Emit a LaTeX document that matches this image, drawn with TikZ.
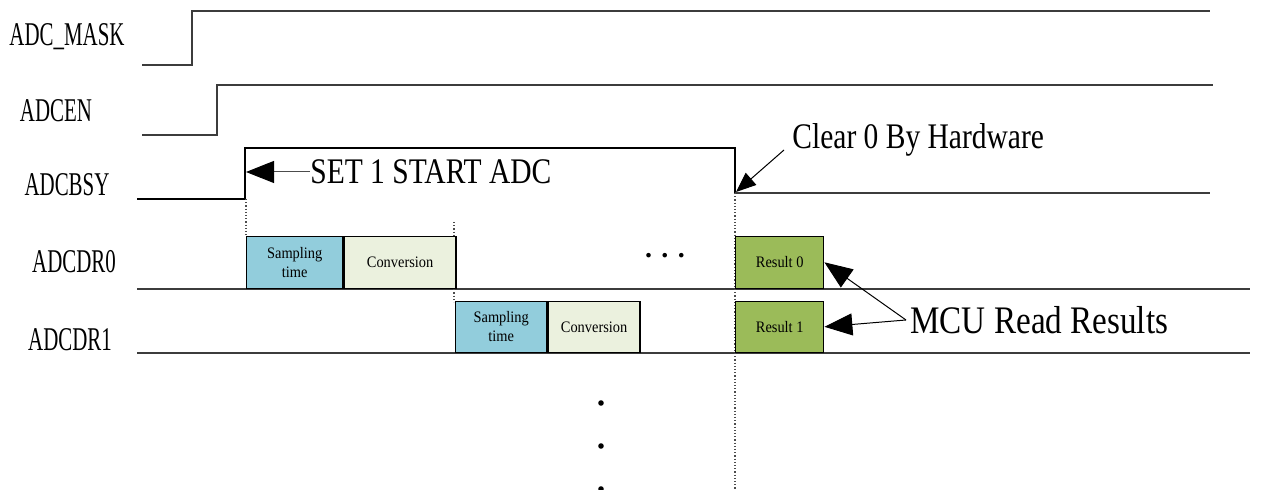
\documentclass[tikz,border=0pt]{standalone}
\usepackage{fontspec}
\setmainfont{Liberation Serif}
\newfontfamily\sigfont[FakeStretch=0.63]{Liberation Serif}
\newfontfamily\notefont[FakeStretch=0.82]{Liberation Serif}
\newfontfamily\widenotefont[FakeStretch=0.85]{Liberation Serif}
\newfontfamily\cellfont[FakeStretch=0.9]{Liberation Serif}
\usetikzlibrary{arrows.meta,positioning}
\definecolor{samp}{RGB}{146,205,220}
\definecolor{conv}{RGB}{235,241,222}
\definecolor{res}{RGB}{155,187,89}
\definecolor{wave}{RGB}{60,60,60}

\begin{document}
\begin{tikzpicture}[x=0.5pt, y=-0.5pt,
  sig/.style={draw=wave, line width=0.9pt},
  guide/.style={densely dotted, black!70, line width=0.6pt},
  lbl/.style={font=\sigfont\fontsize{16.6}{18}\selectfont, inner sep=0pt},
  note/.style={font=\notefont\fontsize{18}{20}\selectfont, inner sep=0pt},
  cell/.style={draw, line width=0.7pt, minimum height=26pt, inner sep=0pt, align=center, font=\cellfont\fontsize{8}{9.5}\selectfont},
  arrow/.style={-{Triangle[length=14pt, width=11pt, color=black]}, line width=0.5pt},
  smallarrow/.style={-{Triangle[length=10pt, width=8pt]}, line width=0.5pt},
]
  \useasboundingbox (0,0) rectangle (1265,490);

  \node[lbl] (mask) at (67,37) {ADC\_MASK};
  \node[lbl] (en) at (56,111) {ADCEN};
  \node[lbl] (bsy) at (67,185) {ADCBSY};
  \node[lbl] (dr0) at (74,262) {ADCDR0};
  \node[lbl] (dr1) at (70,340) {ADCDR1};

  \draw[sig] (142,65) -- (192,65) -- (192,11) -- (1210,11);
  \draw[sig] (142,135) -- (217,135) -- (217,85) -- (1213,85);
  \draw[sig, draw=black, line width=0.6pt] (137,199) -- (245,199) -- (245,148) -- (735,148) -- (735,193);
  \draw[sig] (735,193) -- (1210,193);
  \draw[sig] (137,289) -- (1250,289);
  \draw[sig] (137,353) -- (1250,353);

  \draw[guide] (246,199) -- (246,235);
  \draw[guide] (454,222) -- (454,302);
  \draw[guide] (735,193) -- (735,490);

  \node[cell, fill=samp, minimum width=48pt, anchor=south west] (samp0) at (246,289) {Sampling\\time};
  \node[cell, fill=conv, minimum width=56pt, right=0pt of samp0] (conv0) {Conversion};
  \node[cell, fill=samp, minimum width=45.5pt, minimum height=25.5pt, anchor=south west] (samp1) at (455,353) {Sampling\\time};
  \node[cell, fill=conv, minimum width=46pt, minimum height=25.5pt, right=0pt of samp1] (conv1) {Conversion};
  \node[cell, fill=res, minimum width=44pt, anchor=south west] (res0) at (735,289) {Result 0};
  \node[cell, fill=res, minimum width=44pt, minimum height=25.5pt, anchor=south west] (res1) at (735,353) {Result 1};

  \node[font=\bfseries\fontsize{14}{16}\selectfont, inner sep=0pt] (more) at (665,256) {.\,\,.\,\,.};
  \foreach \y in {403,446,489}
    \fill (601,\y) circle (1.4pt);

  \node[note, anchor=west] (setlbl) at (310,172) {SET 1 START ADC};
  \coordinate (rise) at (246,172);
  \draw[arrow, draw=black!70] (setlbl.west) -- (rise);

  \node[note, anchor=west] (clrlbl) at (792,140) {Clear 0 By Hardware};
  \coordinate (fall) at (736,192);
  \draw[smallarrow] ([shift={(-8,10)}]clrlbl.west) -- (fall);

  \node[note, font=\widenotefont\fontsize{19.5}{21}\selectfont, anchor=west] (mcu) at (910,320) {MCU Read Results};
  \draw[arrow] ([xshift=-2pt]mcu.west) -- (res0.east);
  \draw[arrow] ([xshift=-2pt]mcu.west) -- (res1.east);
\end{tikzpicture}
\end{document}
